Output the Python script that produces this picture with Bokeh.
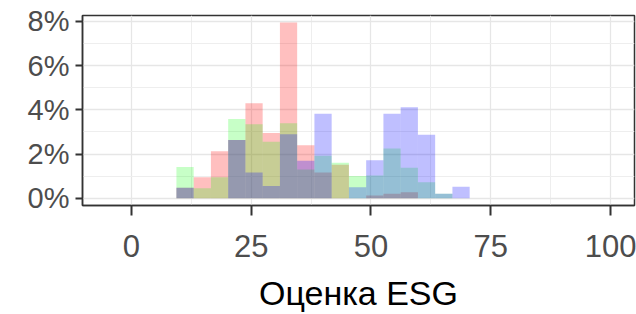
from bokeh.plotting import figure
from bokeh.models import ColumnDataSource, FixedTicker, PrintfTickFormatter, Range1d
from bokeh.embed import file_html
from bokeh.resources import INLINE

# Histogram bins (Оценка ESG), bin width ~3.6
bin_edges = [9.4, 13.0, 16.6, 20.2, 23.8, 27.4, 31.0, 34.6, 38.2, 41.8,
             45.4, 49.0, 52.6, 56.2, 59.8, 63.4, 67.0, 70.6]
# Share of observations per bin, % (three overlapping groups)
red_pct = [0.47, 0.95, 2.12, 2.63, 4.30, 2.95, 7.95, 2.40, 1.16, 1.52,
           0.00, 0.12, 0.20, 0.27, 0.00, 0.00, 0.00]
green_pct = [1.41, 0.45, 0.95, 3.59, 3.35, 2.55, 3.39, 1.30, 1.92, 1.60,
             1.00, 1.03, 2.25, 1.38, 0.72, 0.20, 0.00]
blue_pct = [0.47, 0.00, 0.00, 2.63, 1.16, 0.55, 2.90, 1.69, 3.82, 0.00,
            0.50, 1.72, 3.82, 4.12, 2.87, 0.20, 0.52]
x_ticks = [0, 25, 50, 75, 100]
x_minor = [12.5, 37.5, 62.5, 87.5]
y_ticks = [0, 2, 4, 6, 8]
y_minor = [1, 3, 5, 7]
x_title = "Оценка ESG"

FONT = "Liberation Sans"

p = figure(width=636, height=314, output_backend="svg", toolbar_location=None,
           x_range=Range1d(-10.2, 105), y_range=Range1d(-0.33, 8.27),
           min_border_left=82, min_border_top=15, min_border_right=2,
           min_border_bottom=109)

p.background_fill_color = "white"
p.border_fill_color = "white"
p.outline_line_color = "#333333"
p.outline_line_width = 1.5

left = bin_edges[:-1]
right = bin_edges[1:]
series = [(red_pct, "#FF0000", 0.25), (green_pct, "#00FF00", 0.22),
          (blue_pct, "#0000FF", 0.25)]
for vals, col, a in series:
    src = ColumnDataSource(dict(left=left, right=right, top=vals,
                                bottom=[0] * len(vals)))
    p.quad(left="left", right="right", top="top", bottom="bottom", source=src,
           fill_color=col, fill_alpha=a, line_color=None)

p.xaxis.ticker = FixedTicker(ticks=x_ticks, minor_ticks=x_minor)
p.yaxis.ticker = FixedTicker(ticks=y_ticks, minor_ticks=y_minor)
p.yaxis.formatter = PrintfTickFormatter(format="%d%%")

for g in (p.xgrid, p.ygrid):
    g.grid_line_color = "#E6E6E6"
    g.grid_line_width = 1.3
    g.minor_grid_line_color = "#EEEEEE"
    g.minor_grid_line_width = 1.0

for ax in (p.xaxis, p.yaxis):
    ax.axis_line_color = "#333333"
    ax.axis_line_width = 1.5
    ax.major_tick_line_color = "#333333"
    ax.major_tick_line_width = 2
    ax.major_tick_in = 0
    ax.minor_tick_line_color = None
    ax.major_label_text_font = FONT
    ax.major_label_text_color = "#4D4D4D"

p.xaxis.major_tick_out = 10
p.xaxis.major_label_text_font_size = "31px"
p.xaxis.major_label_standoff = 19
p.yaxis.major_tick_out = 7
p.yaxis.major_label_text_font_size = "29px"
p.yaxis.major_label_standoff = 6

p.xaxis.axis_label = x_title
p.xaxis.axis_label_text_font = FONT
p.xaxis.axis_label_text_font_size = "34px"
p.xaxis.axis_label_text_font_style = "normal"
p.xaxis.axis_label_text_color = "black"
p.xaxis.axis_label_standoff = 14

open("out.html", "w").write(file_html(p, INLINE))
